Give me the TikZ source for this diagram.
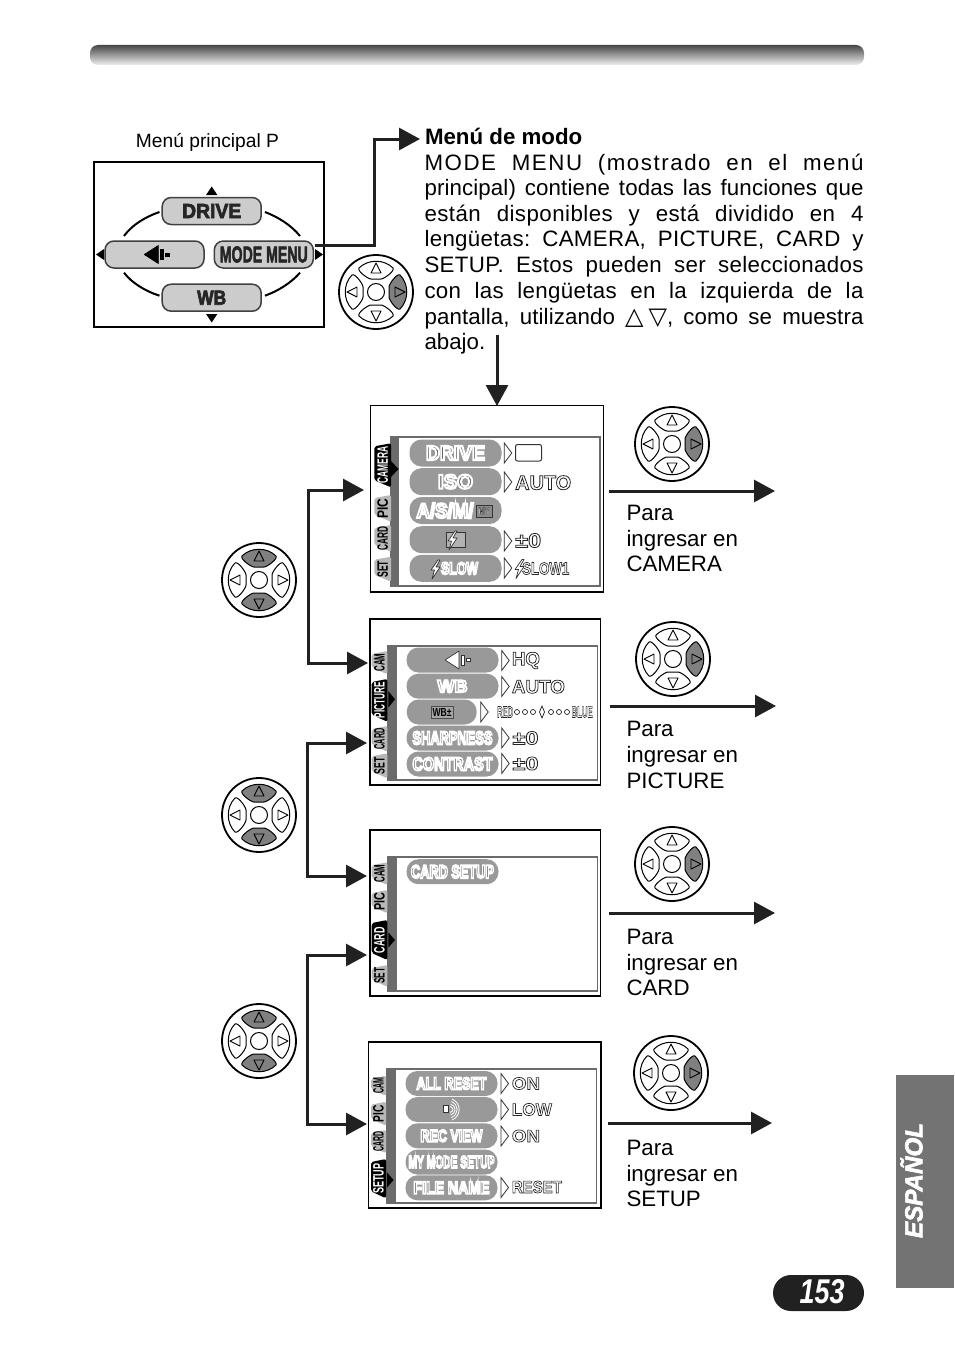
\documentclass[tikz,border=0pt]{standalone}
\usepackage{fontspec}
\usepackage{graphicx}
\setmainfont{Liberation Sans}
\newfontfamily\symf{DejaVu Sans}
\usetikzlibrary{arrows.meta,shapes.misc}
\definecolor{btnfill}{gray}{0.60}
\definecolor{mainfill}{gray}{0.80}
\definecolor{panelgray}{gray}{0.42}
\definecolor{tabgray}{gray}{0.72}
\definecolor{keyon}{gray}{0.50}
\definecolor{inkdark}{gray}{0.13}
\newcommand\fitt[3]{\resizebox{#1}{#2}{\bfseries #3}}
\newcommand\outl[1]{{\color{white}\special{pdf:code 0.15 G 2 Tr 0.4 w}#1\special{pdf:code 0 Tr}}}
\newcommand\ot[3]{\outl{\fitt{#1}{#2}{#3}}}
\newcommand\ob[3]{{\color{black!70}\special{pdf:code 1 G 2 Tr 1 w}\fitt{#1}{#2}{#3}\special{pdf:code 0 Tr}}}
\newcommand\heavy[2]{{\special{pdf:code 2 Tr #1 w}#2\special{pdf:code 0 Tr}}}
\newcommand\fs[1]{\fontsize{#1}{#1}\selectfont}
\newcommand\jline[2]{\makebox[439pt][s]{\frenchspacing\addfontfeature{LetterSpace=#1}#2}}
\tikzset{
  x=1pt,y=-1pt,
  txtline/.style={anchor=base west,inner sep=0pt,outer sep=0pt,font=\fs{22.3}},
  screenbox/.style={draw=black,line width=1.6pt,fill=white,anchor=north west,inner sep=0pt,outer sep=0pt},
  mainbtn/.style={draw=black!75,line width=1.5pt,fill=mainfill,rounded corners=9pt,minimum width=99pt,minimum height=27pt,inner sep=0pt,text=black!85},
  menubtn/.style={fill=btnfill,rounded corners=12pt,inner sep=0pt,minimum height=25pt},
  valtext/.style={inner sep=0pt,anchor=west},
  headarrow/.style={line width=3pt,inkdark,-{Triangle[length=21pt,width=22pt]}},
  bothheads/.style={line width=3pt,inkdark,{Triangle[length=21pt,width=22pt]}-{Triangle[length=21pt,width=22pt]}},
  tiptri/.style={fill=black,draw=none},
  valtri/.style={draw=black!80,line width=.8pt,fill=white},
}
\newcommand\padkey[2]{%
  \begin{scope}[rotate=#1]
    \draw[fill=#2,line width=1pt] (-17,-24) .. controls (-8,-33) and (8,-33) .. (17,-24)
      .. controls (19,-21) and (8,-13) .. (5,-13) -- (-5,-13)
      .. controls (-8,-13) and (-19,-21) .. (-17,-24) -- cycle;
    \draw[line width=.9pt,line join=round] (0,-29) -- (-5,-19) -- (5,-19) -- cycle;
  \end{scope}}
\newcommand\pad[6]{%
  \begin{scope}[shift={(#1,#2)}]
    \draw[fill=white,line width=1.8pt] (0,0) circle (37);
    \padkey{0}{#3}\padkey{-90}{#4}\padkey{180}{#5}\padkey{90}{#6}
    \draw[fill=white,line width=1pt] (0,0) circle (8.5);
  \end{scope}}
\newcommand\panel[8]{%
  \fill[panelgray] (#1,#2) rectangle (#3,#4);
  \fill[white] (#5,#6) rectangle (#7,#8);}
\newcommand\tabk[8]{%
  \fill[#5,rounded corners=2pt] (#2,#3) -- (#1,#3+3) -- (#1,#4-7) -- (#2,#4) -- cycle;
  \node[rotate=90,inner sep=0pt,text=#8] (#6) at ({(#1+#2)/2},{(#3+#4)/2}) {\fitt{#7}{10.5pt}{#6}};}
\newcommand\vtri[2]{\draw[valtri,line join=miter] (#1,#2-10) -- (#1+7.5,#2) -- (#1,#2+10) -- cycle;}
\newcommand\flashi[2]{\draw[fill=white,draw=black!80,line width=.7pt,line join=round]
  (#1+3,#2-9) -- (#1-4,#2+1) -- (#1-.5,#2+1) -- (#1-3,#2+10) -- (#1+5,#2-2) -- (#1+1,#2-2) -- (#1+5,#2-9) -- cycle;}
\newcommand\qicon[4]{%
  \draw[fill=#3,draw=#4,line width=.7pt,line join=round] (#1,#2) -- (#1+14,#2-9) -- (#1+14,#2+9) -- cycle;
  \draw[fill=#3,draw=#4,line width=.5pt] (#1+16,#2-5) rectangle (#1+19,#2+5);
  \draw[fill=#3,draw=#4,line width=.5pt] (#1+21,#2-1.5) rectangle (#1+25,#2+1.5);}
\begin{document}
\begin{tikzpicture}
\useasboundingbox (0,0) rectangle (954,1346);
\fill[white] (0,0) rectangle (954,1346);
\shade[top color=black!72,bottom color=black!6,rounded corners=8pt] (90,45) rectangle (864,65);
% main menu
\node[inner sep=0pt,font=\fs{19.2}] (mainlabel) at (207.5,142.5) {\frenchspacing Menú principal P};
\node[screenbox,minimum width=230pt,minimum height=165pt] (mainbox) at (94,162) {};
\node[mainbtn] (drive) at (211.7,211) {\heavy{0.35}{\fitt{59pt}{14pt}{DRIVE}}};
\node[mainbtn] (wb) at (211.7,297.7) {\heavy{0.35}{\fitt{29pt}{14pt}{WB}}};
\node[mainbtn] (qual) at (154.5,254.5) {};
\node[mainbtn] (mm) at (263.8,254.5) {\heavy{0.3}{\fitt{88pt}{16pt}{MODE MENU}}};
\qicon{144.3}{254.5}{black}{black}
\draw[line width=2pt] (drive.west) ++(-2,1) .. controls (145,217) and (132,225) .. (124,236);
\draw[line width=2pt] (drive.east) ++(3,1) .. controls (278,217) and (291,225) .. (300,236);
\draw[line width=2pt] (wb.west) ++(-2,-2) .. controls (145,291) and (132,283) .. (124,272.7);
\draw[line width=2pt] (wb.east) ++(3,-2) .. controls (278,291) and (291,283) .. (300,272.7);
\fill[tiptri] (211.7,186.5) -- (206,195) -- (217.4,195) -- cycle;
\fill[tiptri] (211.7,322.5) -- (206,314) -- (217.4,314) -- cycle;
\fill[tiptri] (96,254.5) -- (104,249) -- (104,260) -- cycle;
\fill[tiptri] (323,254.5) -- (315,249) -- (315,260) -- cycle;
\coordinate (mmout) at (315,245);
\coordinate (mmbend) at (374,139);
\coordinate (menutip) at (420,139);
\draw[headarrow] (mmout) -| (mmbend) -- (menutip);
% body text
\node[txtline] (t1) at (425,144) {\bfseries Menú de modo};
\node[txtline] (t2) at (424.5,170) {\jline{7}{MODE MENU (mostrado en el menú}};
\node[txtline] (t3) at (424.5,195.5) {\jline{0.5}{principal) contiene todas las funciones que}};
\node[txtline] (t4) at (424.5,221) {\jline{2}{están disponibles y está dividido en 4}};
\node[txtline] (t5) at (424.5,246.5) {\jline{1.5}{lengüetas: CAMERA, PICTURE, CARD y}};
\node[txtline] (t6) at (424.5,272) {\jline{1.5}{SETUP. Estos pueden ser seleccionados}};
\node[txtline] (t7) at (424.5,298) {\jline{1.5}{con las lengüetas en la izquierda de la}};
\node[txtline] (t8) at (424.5,324) {\jline{0.5}{pantalla, utilizando {\symf\fs{24}△\kern5pt ▽}, como se muestra}};
\node[txtline] (t9) at (424.5,349) {abajo.};
\coordinate (textout) at (497,335);
\coordinate (camtop) at (497,406);
\draw[headarrow] (textout) -- (camtop);
% pads
\pad{376}{292}{white}{keyon}{white}{white}
\pad{672}{444}{white}{keyon}{white}{white}
\pad{673}{659}{white}{keyon}{white}{white}
\pad{672}{864}{white}{keyon}{white}{white}
\pad{671}{1073}{white}{keyon}{white}{white}
\pad{259}{580}{keyon}{white}{keyon}{white}
\pad{259}{815}{keyon}{white}{keyon}{white}
\pad{259}{1041}{keyon}{white}{keyon}{white}
% CAMERA screen
\node[screenbox,minimum width=233pt,minimum height=186.5pt] (scrcam) at (370.3,405.3) {};
\panel{390}{436}{601}{587.3}{399.3}{438.3}{599.3}{585}
\tabk{374.3}{391}{443.3}{487.3}{black}{CAMERA}{37pt}{white}
\tabk{374.3}{391}{495}{521.7}{tabgray}{PIC}{20pt}{black}
\tabk{374.3}{391}{525}{551.7}{tabgray}{CARD}{24pt}{black}
\tabk{374.3}{391}{556.7}{581.7}{tabgray}{SET}{17pt}{black}
\fill[tiptri] (391,461) -- (398.5,469) -- (391,477) -- cycle;
\node[menubtn,minimum width=92pt,minimum height=27pt] (c1) at (455.5,453) {\ob{59pt}{14pt}{DRIVE}};
\node[menubtn,minimum width=92pt,minimum height=27pt] (c2) at (455.5,481.7) {\ob{35pt}{14pt}{ISO}};
\node[menubtn,minimum width=92pt,minimum height=27pt] (c3) at (455.5,510.5) {\ob{57pt}{15pt}{A/S/M/}\kern21pt};
\draw[fill=black!45,draw=black!80,line width=.7pt] (476,505) rectangle (492,517);
\node[inner sep=0pt] (c3i) at (484,511) {\ot{11pt}{7pt}{MY}};
\node[menubtn,minimum width=92pt,minimum height=27pt] (c4) at (455.5,539.7) {};
\draw[fill=black!30,draw=black!80,line width=.7pt] (446.5,532.5) rectangle (465.5,547.5);
\flashi{452}{540}
\node[menubtn,minimum width=92pt,minimum height=27pt] (c5) at (455.5,568.3) {\kern8pt\ob{37pt}{12pt}{SLOW}};
\flashi{435}{569}
\vtri{504.3}{453}\vtri{504.3}{482}\vtri{504.3}{541}\vtri{504.3}{568}
\draw[draw=black!80,line width=1pt,fill=white,rounded corners=2pt] (515.5,444.5) rectangle (541.5,461);
\node[valtext] (cv2) at (515,482.7) {\ot{56pt}{14pt}{AUTO}};
\node[valtext] (cv4) at (515,540.5) {\ot{26pt}{14pt}{±0}};
\node[valtext] (cv5) at (522,568.5) {\ot{47pt}{12pt}{SLOW1}};
\flashi{519}{568.5}
% PICTURE screen
\node[screenbox,minimum width=230.7pt,minimum height=166pt] (scrpic) at (369.7,619) {};
\panel{387.3}{645}{598.3}{781}{396.7}{647.3}{596.7}{779}
\tabk{371.7}{387.3}{651}{674.3}{tabgray}{CAM}{18pt}{black}
\tabk{371.7}{387.3}{679}{721.7}{black}{PICTURE}{36pt}{white}
\tabk{371.7}{387.3}{726}{751.7}{tabgray}{CARD}{21pt}{black}
\tabk{371.7}{387.3}{753.3}{778.3}{tabgray}{SET}{17pt}{black}
\fill[tiptri] (388.3,691) -- (395,699.3) -- (388.3,707.7) -- cycle;
\node[menubtn,minimum width=92pt] (p1) at (452.5,660) {};
\qicon{445}{660}{white}{black!80}
\node[menubtn,minimum width=92pt] (p2) at (452.5,686.2) {\ob{30pt}{12pt}{WB}};
\node[menubtn,minimum width=70pt] (p3) at (441.7,712) {};
\draw[fill=black!35,draw=black!70,line width=.5pt] (431,706) rectangle (453,718);
\node[inner sep=0pt] (p3i) at (442,712) {\fitt{19pt}{8pt}{WB±}};
\node[menubtn,minimum width=92pt] (p4) at (452.5,738) {\ob{80pt}{13pt}{SHARPNESS}};
\node[menubtn,minimum width=92pt] (p5) at (452.5,764) {\ob{80pt}{13pt}{CONTRAST}};
\vtri{501.7}{660.5}\vtri{501.7}{686.5}\vtri{480.7}{712}\vtri{501.7}{738}\vtri{501.7}{763.5}
\node[valtext] (pv1) at (511.7,660.5) {\ot{28pt}{13pt}{HQ}};
\node[valtext] (pv2) at (511.7,686.7) {\ot{53pt}{13pt}{AUTO}};
\node[valtext] (pv3a) at (497,712) {\ot{16pt}{11pt}{RED}};
\node[valtext] (pv3b) at (571.5,712) {\ot{21pt}{11pt}{BLUE}};
\foreach \cx in {517,525,533,551,559,567} \draw[line width=.6pt] (\cx,712) circle (2.5);
\draw[line width=.6pt] (542,706) -- (539.5,712) -- (542,718) -- (544.5,712) -- cycle;
\node[valtext] (pv4) at (512.3,738) {\ot{26pt}{13pt}{±0}};
\node[valtext] (pv5) at (512.3,763.5) {\ot{26pt}{13pt}{±0}};
% CARD screen
\node[screenbox,minimum width=230.7pt,minimum height=166pt] (scrcard) at (369.7,829.7) {};
\panel{387.3}{856}{598.3}{991.7}{396.7}{858.3}{596.7}{990}
\tabk{371.7}{387.3}{862.3}{885}{tabgray}{CAM}{18pt}{black}
\tabk{371.7}{387.3}{890}{913.3}{tabgray}{PIC}{18pt}{black}
\tabk{371.7}{387.3}{920}{960}{black}{CARD}{26pt}{white}
\tabk{371.7}{387.3}{965}{986.7}{tabgray}{SET}{16pt}{black}
\fill[tiptri] (388.3,932.3) -- (395,940) -- (388.3,947.7) -- cycle;
\node[menubtn,minimum width=92pt] (k1) at (452.5,871.7) {\ob{83pt}{13pt}{CARD SETUP}};
% SETUP screen
\node[screenbox,minimum width=232.4pt,minimum height=166pt] (scrset) at (368.3,1041.7) {};
\panel{386}{1067.7}{597.3}{1204.3}{395.7}{1070}{595.7}{1201.7}
\tabk{371}{386}{1075.7}{1096}{tabgray}{CAM}{16pt}{black}
\tabk{371}{386}{1101.7}{1125.7}{tabgray}{PIC}{17pt}{black}
\tabk{371}{386}{1130}{1153.3}{tabgray}{CARD}{20pt}{black}
\tabk{371}{386}{1159}{1198.3}{black}{SETUP}{30pt}{white}
\fill[tiptri] (387,1172.3) -- (393.5,1180) -- (387,1187.7) -- cycle;
\node[menubtn,minimum width=92pt] (s1) at (451.5,1083.5) {\ob{70pt}{12pt}{ALL RESET}};
\node[menubtn,minimum width=92pt] (s2) at (451.5,1109.5) {};
\draw[fill=white,draw=black!80,line width=.5pt] (443,1105.5) rectangle (448,1112.5);
\foreach \rr in {3,5.5,8,10.5} \draw[white,line width=.8pt] (449+\rr*.3,1109.5-\rr) .. controls (451+\rr,1109.5-\rr*.6) and (451+\rr,1109.5+\rr*.6) .. (449+\rr*.3,1109.5+\rr);
\node[menubtn,minimum width=92pt] (s3) at (451.5,1135.8) {\ob{62pt}{12pt}{REC VIEW}};
\node[menubtn,minimum width=92pt] (s4) at (451.5,1162) {\ob{86pt}{12pt}{MY MODE SETUP}};
\node[menubtn,minimum width=92pt] (s5) at (451.5,1187.8) {\ob{76pt}{12pt}{FILE NAME}};
\vtri{501}{1083.5}\vtri{501}{1109.5}\vtri{501}{1136}\vtri{501}{1187.5}
\node[valtext] (sv1) at (511.7,1083.5) {\ot{28pt}{12pt}{ON}};
\node[valtext] (sv2) at (511.7,1109.5) {\ot{40pt}{12pt}{LOW}};
\node[valtext] (sv3) at (511.7,1136) {\ot{28pt}{12pt}{ON}};
\node[valtext] (sv5) at (511.7,1187) {\ot{50pt}{12pt}{RESET}};
% left connectors
\coordinate (camin) at (364,490);
\coordinate (picinA) at (368,663);
\coordinate (busA) at (308,576);
\coordinate (picinB) at (367,743);
\coordinate (cardinA) at (367,876);
\coordinate (busB) at (307,810);
\coordinate (cardinB) at (367,955);
\coordinate (setin) at (367,1124);
\coordinate (busC) at (307,1040);
\draw[bothheads] (camin) -| (busA) |- (picinA);
\draw[bothheads] (picinB) -| (busB) |- (cardinA);
\draw[bothheads] (cardinB) -| (busC) |- (setin);
% right connectors
\coordinate (ra0) at (609,491); \coordinate (ra1) at (775,491);
\coordinate (rb0) at (610,706); \coordinate (rb1) at (776,706);
\coordinate (rc0) at (609,913); \coordinate (rc1) at (775,913);
\coordinate (rd0) at (608,1123); \coordinate (rd1) at (772,1123);
\draw[headarrow] (ra0) -- (ra1);
\draw[headarrow] (rb0) -- (rb1);
\draw[headarrow] (rc0) -- (rc1);
\draw[headarrow] (rd0) -- (rd1);
% right labels
\node[txtline] (ra) at (626.5,520) {Para};
\node[txtline] (ra2) at (626.5,546) {ingresar en};
\node[txtline] (ra3) at (626.5,571) {CAMERA};
\node[txtline] (rb) at (626.5,736) {Para};
\node[txtline] (rb2) at (626.5,762) {ingresar en};
\node[txtline] (rb3) at (626.5,788) {PICTURE};
\node[txtline] (rc) at (626.5,944) {Para};
\node[txtline] (rc2) at (626.5,970) {ingresar en};
\node[txtline] (rc3) at (626.5,995) {CARD};
\node[txtline] (rd) at (626.5,1155) {Para};
\node[txtline] (rd2) at (626.5,1181) {ingresar en};
\node[txtline] (rd3) at (626.5,1206) {SETUP};
% side tab and page number
\fill[black!55] (896,1075) rectangle (954,1288);
\node[rotate=90,inner sep=0pt,text=white] (esp) at (911.5,1180.5) {\heavy{0.25}{\resizebox{115pt}{22pt}{\bfseries\itshape ESPAÑOL}}};
\fill[inkdark,rounded corners=18pt] (773,1275) rectangle (864,1311);
\node[inner sep=0pt,text=white] (pageno) at (822,1292) {\resizebox{45pt}{24pt}{\bfseries\itshape 153}};
\end{tikzpicture}
\end{document}
